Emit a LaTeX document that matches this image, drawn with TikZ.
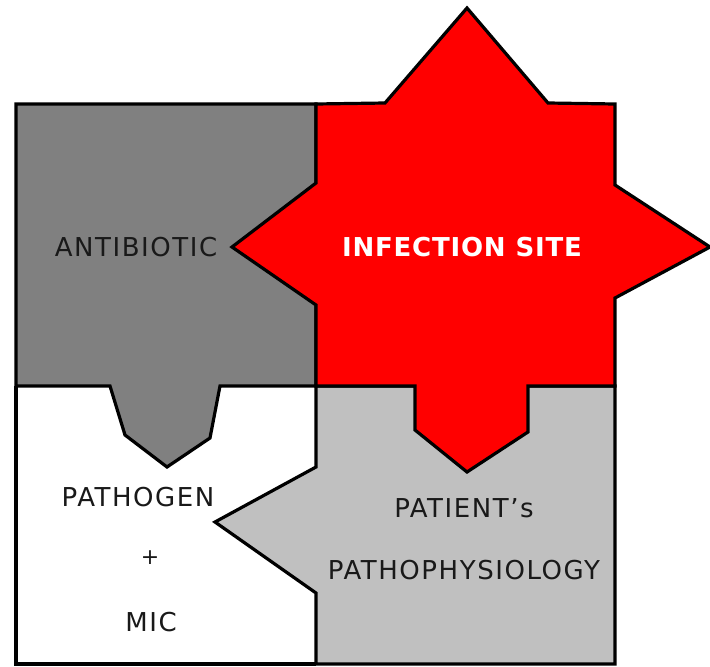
\documentclass[tikz,border=0pt]{standalone}
\usepackage{fontspec}
\setmainfont{DejaVu Sans}
\usetikzlibrary{calc}

\definecolor{abgray}{RGB}{128,128,128}
\definecolor{ptgray}{RGB}{192,192,192}
\definecolor{sitered}{RGB}{255,0,0}

\begin{document}
\begin{tikzpicture}[x=1pt, y=-1pt, line join=miter,
    piece/.style={draw=black, line width=3.2pt},
    label/.style={font=\fontsize{26}{28}\selectfont\addfontfeature{LetterSpace=6},
                  text=black!90, inner sep=0pt}]

% =========================================================
% Four-piece puzzle: antibiotic, pathogen, patient, site
% =========================================================
\useasboundingbox (0,0) rectangle (710,667);

% --- 1. COORDINATE DEFINITION ---
% Corners of the 2x2 grid
\coordinate (tl) at (16,104);
\coordinate (tm) at (316,104);
\coordinate (tr) at (615,104);
\coordinate (ml) at (16,386);
\coordinate (mm) at (316,386);
\coordinate (mr) at (615,386);
\coordinate (bl) at (16,664);
\coordinate (bm) at (316,664);
\coordinate (br) at (615,664);

% --- 2. PATHOGEN PIECE (white, bottom left) ---
\fill[white] (ml) -- (mm) -- (bm) -- (bl) -- cycle;
\draw[piece] (ml) -- (bl) -- (bm);

% --- 3. ANTIBIOTIC PIECE (dark gray, with tab down) ---
\draw[piece, fill=abgray] (tl) -- (tm) -- (mm) -- (220,386) -- (210,438)
    -- (167,467) -- (125,435) -- (110,386) -- (ml) -- cycle;

% --- 4. PATIENT PIECE (light gray, with tab left) ---
\draw[piece, fill=ptgray] (mm) -- (mr) -- (br) -- (bm) -- (316,593)
    -- (215,522) -- (316,467) -- cycle;

% --- 5. INFECTION SITE (red star on top) ---
\draw[piece, fill=sitered] (467,8) -- (548,103) -- (tr) -- (615,185)
    -- (710,247) -- (615,298) -- (mr) -- (528,386) -- (528,432)
    -- (467,472) -- (415,430) -- (415,386) -- (mm) -- (316,305)
    -- (232,247) -- (316,183) -- (tm) -- (385,103) -- cycle;

% --- 6. LABELS ---
\node[label] (antibiotic) at (136,247) {ANTIBIOTIC};
\node[label, text=white, font=\fontsize{26}{28}\selectfont\bfseries\addfontfeature{LetterSpace=3}] (site) at (462,247) {INFECTION SITE};
\node[label] (pathogen) at (138,497) {PATHOGEN};
\node[label, font=\fontsize{22}{24}\selectfont] (plus) at (150,558) {+};
\node[label] (mic) at (151,622) {MIC};
\node[label] (patient) at (464,508) {PATIENT's};
\node[label] (patho) at (464,570) {PATHOPHYSIOLOGY};

\end{tikzpicture}
\end{document}
